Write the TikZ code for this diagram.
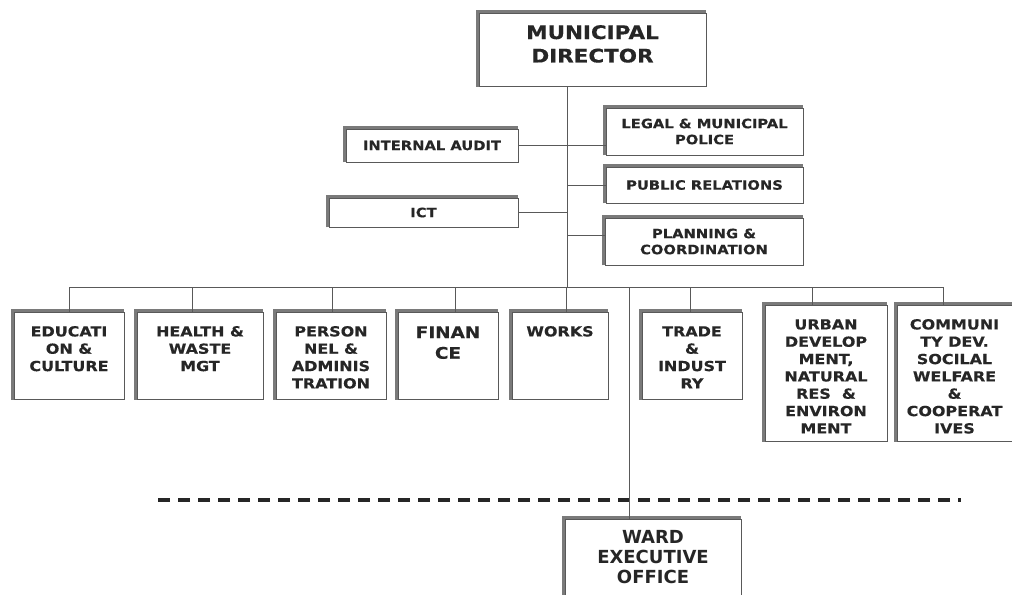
\documentclass[tikz,border=0pt]{standalone}
\usepackage{fontspec}
\newfontfamily\orgfont{DejaVu Sans}[FakeStretch=1.15, FakeBold=0.4]
\newfontfamily\wardfont{DejaVu Sans}
\usetikzlibrary{positioning}
% lines hung from the first baseline
\newcommand\hung[1]{\begin{tabular}[t]{@{}c@{}}#1\end{tabular}}

\begin{document}
\begin{tikzpicture}[
  x=0.75pt, y=-0.75pt,
  box/.style={draw=black!65, line width=0.6pt, fill=white,
              text=black!85, inner sep=0pt,
              append after command={\pgfextra{\draw[black!52, line width=2.6pt]
                ([xshift=-0.9pt]\tikzlastnode.south west)
                -- ([shift={(-0.9pt,0.9pt)}]\tikzlastnode.north west)
                -- ([yshift=0.9pt]\tikzlastnode.north east);}}},
  head/.style={box, anchor=north, font=\orgfont\bfseries\fontsize{14}{17.6}\selectfont,
               minimum width=170.25pt, text height=19.2pt, text depth=35.55pt},
  side/.style={box, align=center, font=\orgfont\bfseries\fontsize{9.6}{12}\selectfont},
  dept/.style={box, anchor=north, font=\orgfont\bfseries\fontsize{10.4}{13}\selectfont,
               text height=18pt, text depth=47.25pt},
  tall/.style={dept, text depth=84pt},
  link/.style={draw=black!65, line width=0.7pt},
]
  \useasboundingbox (0,0) rectangle (1012,594);

  % top of the chart
  \node[head] (dir) at (592.5,13) {\hung{MUNICIPAL\\DIRECTOR}};
  \coordinate (bus) at (567,287);

  % units beside the stem
  \node[side, minimum width=129pt, minimum height=24.75pt] (audit) at (432,145.5) {INTERNAL AUDIT};
  \node[side, minimum width=147.75pt, minimum height=35.25pt] (legal) at (704.5,131.5) {LEGAL \& MUNICIPAL\\POLICE};
  \node[side, minimum width=147.75pt, minimum height=27pt] (pr) at (704.5,185) {PUBLIC RELATIONS};
  \node[side, minimum width=141.75pt, minimum height=21.75pt] (ict) at (423.5,212.5) {ICT};
  \node[side, minimum width=148.5pt, minimum height=35.25pt] (plan) at (704,241.5) {PLANNING \&\\COORDINATION};

  % departments
  \node[dept, minimum width=82.5pt] (edu) at (69,312) {\hung{EDUCATI\\ON \&\\CULTURE}};
  \node[dept, minimum width=94.5pt] (health) at (200,312) {\hung{HEALTH \&\\WASTE\\MGT}};
  \node[dept, minimum width=82.5pt] (pers) at (331,312) {\hung{PERSON\\NEL \&\\ADMINIS\\TRATION}};
  \node[dept, minimum width=75pt, font=\orgfont\bfseries\fontsize{12}{15.5}\selectfont,
        text height=19.25pt, text depth=46pt] (fin) at (448,312) {\hung{FINAN\\CE}};
  \node[dept, minimum width=72pt] (works) at (560,312) {\hung{WORKS}};
  \node[dept, minimum width=75pt] (trade) at (692,312) {\hung{TRADE\\\&\\INDUST\\RY}};
  \node[tall, minimum width=91.5pt] (urban) at (826,305) {\hung{URBAN\\DEVELOP\\MENT,\\NATURAL\\RES \ \&\\ENVIRON\\MENT}};
  \node[tall, minimum width=86.25pt] (comm) at (954.5,305) {\hung{COMMUNI\\TY DEV.\\SOCILAL\\WELFARE\\\&\\COOPERAT\\IVES}};

  % ward level
  \node[box, anchor=north, minimum width=132pt, font=\wardfont\bfseries\fontsize{13.5}{15}\selectfont,
        text height=18.4pt, text depth=42.3pt] (ward) at (653,519) {\hung{WARD\\EXECUTIVE\\OFFICE}};

  % connectors
  \draw[link] (dir.south -| bus) -- (bus);
  \draw[link] (audit.east) -- (audit.east -| legal.west);
  \draw[link] (pr.west) -- (pr.west -| bus);
  \draw[link] (ict.east) -- (ict.east -| bus);
  \draw[link] ([yshift=4.5pt]plan.west) -- ([yshift=4.5pt]plan.west -| bus);
  \draw[link] (edu.north |- bus) -- ([xshift=-8.6pt]comm.north |- bus);
  \foreach \n/\s in {edu/0, health/-6, pers/0.75, fin/5.25, works/4.5, trade/-1.5, urban/-10.5, comm/-8.6}
    \draw[link] ([xshift=\s]\n.north) -- ([xshift=\s]\n.north |- bus);

  % level separator
  \draw[black!85, line width=3pt, dash pattern=on 9pt off 6pt] (158,500) -- (961,500);
  \draw[link] ([xshift=-18pt]ward.north) -- ([xshift=-18pt]ward.north |- bus);
\end{tikzpicture}
\end{document}
